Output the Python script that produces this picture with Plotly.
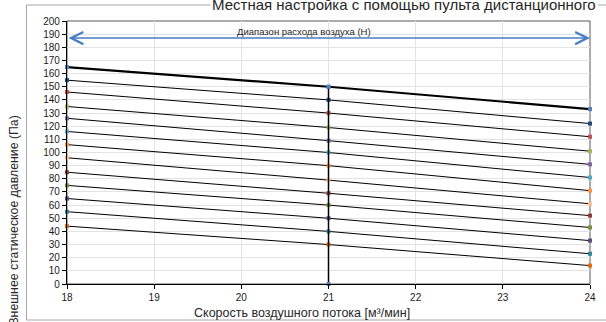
import plotly.graph_objects as go

# ---- data ----
airflow_ticks = [18, 19, 20, 21, 22, 23, 24]
curve_x = [18, 21, 24]
pressure_at_18 = [165, 155, 146, 135, 126, 116, 106, 96, 85, 75, 65, 55, 44]
pressure_at_21 = [150, 140, 130, 119, 109, 100, 90, 79, 69, 60, 50, 40, 30]
pressure_at_24 = [133, 122, 112, 101, 91, 81, 71, 61, 52, 43, 33, 23, 14]
rated_x = [21, 21]
rated_y = [0, 150]
range_x = [18, 24]
range_y = 187
marker_colors = ['#4F81BD', '#1F497D', '#C0504D', '#9BBB59', '#8064A2', '#4BACC6',
                 '#F79646', '#FABF8F', '#953735', '#76923C', '#5F497A', '#31859C', '#E46C0A']

title_text = "Местная настройка с помощью пульта дистанционного"
range_label = "Диапазон расхода воздуха (Н)"
x_title = "Скорость воздушного потока [м³/мин]"
y_title = "Внешнее статическое давление (Па)"

FONT = "Liberation Sans"
W, H = 606, 322
L, R, T, B = 67, 10, 21, 38
pw, ph = W - L - R, H - T - B

def px_x(p):
    return (p - L) / pw

def px_y(p):
    return (H - B - p) / ph

fig = go.Figure()

for i in range(len(pressure_at_18)):
    ys = [pressure_at_18[i], pressure_at_21[i], pressure_at_24[i]]
    fig.add_trace(go.Scatter(
        x=curve_x, y=ys, mode='lines+markers',
        line=dict(color='black', width=2.2 if i == 0 else 1),
        marker=dict(symbol='square', size=4, color=marker_colors[i]),
        cliponaxis=False, showlegend=False, hoverinfo='skip'))

fig.add_trace(go.Scatter(
    x=rated_x, y=rated_y, mode='lines+markers',
    line=dict(color='black', width=1.5),
    marker=dict(symbol='square', size=4, color='#4F81BD'),
    cliponaxis=False, showlegend=False, hoverinfo='skip'))

# double-headed range arrow
fig.add_annotation(x=range_x[1], y=range_y, ax=range_x[0], ay=range_y,
                   xref='x', yref='y', axref='x', ayref='y', text='',
                   showarrow=True, arrowside='end+start', arrowhead=5, startarrowhead=5,
                   arrowsize=1.6, startarrowsize=1.6, arrowwidth=1.5,
                   arrowcolor='#4A7EC4', standoff=0, startstandoff=0)
fig.add_annotation(x=20.72, y=range_y, xref='x', yref='y', text=range_label,
                   showarrow=False, yshift=7, font=dict(family=FONT, size=9.5, color='#262626'))

# outer frame
fig.add_shape(type='rect', xref='paper', yref='paper',
              x0=px_x(26), x1=px_x(615), y0=px_y(320), y1=px_y(5),
              line=dict(color='#A6A6A6', width=1), layer='below')
# plot area frame (top/right)
fig.add_shape(type='rect', xref='paper', yref='paper', x0=0, x1=1, y0=0, y1=1,
              line=dict(color='#595959', width=1), layer='below')

fig.add_annotation(x=px_x(604), y=px_y(5), xref='paper', yref='paper',
                   xanchor='right', yanchor='middle', text=title_text, showarrow=False,
                   bgcolor='white', font=dict(family=FONT, size=15, color='#262626'))
fig.add_annotation(x=px_x(305), y=px_y(313), xref='paper', yref='paper',
                   xanchor='center', yanchor='middle', text=x_title, showarrow=False,
                   font=dict(family=FONT, size=12.5, color='#262626'))
fig.add_annotation(x=px_x(13), y=px_y(221), xref='paper', yref='paper',
                   xanchor='center', yanchor='middle', text=y_title, showarrow=False,
                   textangle=-90, font=dict(family=FONT, size=12.3, color='#262626'))

fig.update_xaxes(range=[18, 24], tickvals=airflow_ticks, showgrid=True, gridcolor='#E3E3E3',
                 zeroline=False, showline=True, linecolor='black', linewidth=1.3,
                 ticks='outside', ticklen=4, tickcolor='black',
                 tickfont=dict(family=FONT, size=10, color='#1A1A1A'))
fig.update_yaxes(range=[0, 200], dtick=10, showgrid=True, gridcolor='#E3E3E3',
                 zeroline=False, showline=True, linecolor='black', linewidth=1.3,
                 ticks='outside', ticklen=4, tickcolor='black',
                 tickfont=dict(family=FONT, size=10, color='#1A1A1A'))

fig.update_layout(width=W, height=H, margin=dict(l=L, r=R, t=T, b=B),
                  paper_bgcolor='white', plot_bgcolor='white', showlegend=False)

fig.write_html("out.html", config={'displayModeBar': False},
               post_script="document.body.style.margin='0px';")
